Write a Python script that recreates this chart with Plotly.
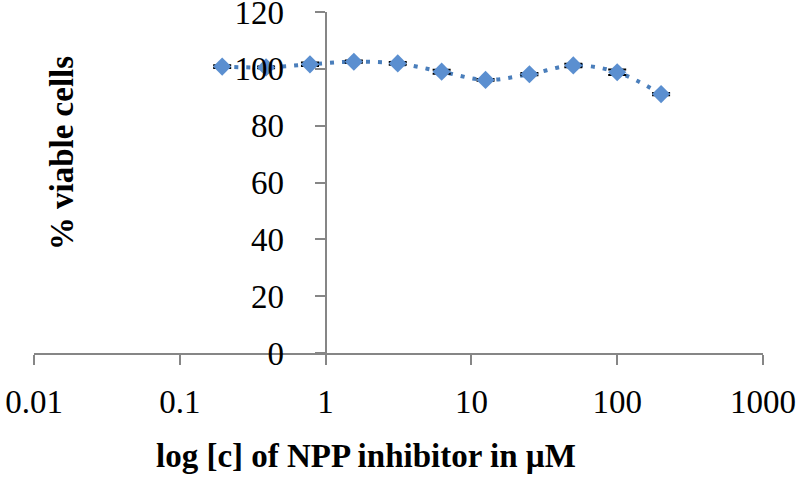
import plotly.graph_objects as go

# concentrations (µM), two-fold dilution series
conc = [0.1953125, 0.390625, 0.78125, 1.5625, 3.125, 6.25, 12.5, 25, 50, 100, 200]
viable = [100.8, 100.5, 101.6, 102.5, 101.9, 99.0, 96.1, 98.1, 101.2, 98.8, 91.1]
err = [0.5, 0.3, 0.6, 0.4, 0.5, 0.7, 0.3, 0.4, 0.6, 1.0, 0.4]

x_ticks = [0.01, 0.1, 1, 10, 100, 1000]
x_ticktext = ["0.01", "0.1", "1", "10", "100", "1000"]
y_ticks = [0, 20, 40, 60, 80, 100, 120]

serif = "Liberation Serif, Times New Roman, serif"
axis_grey = "#868686"

fig = go.Figure()

# dotted trendline
fig.add_trace(go.Scatter(
    x=conc, y=viable, mode="lines",
    line=dict(color="#4A7EBB", width=4, dash="4px,8px", shape="spline", smoothing=1.0),
    hoverinfo="skip", showlegend=False
))

# data points with error bars
fig.add_trace(go.Scatter(
    x=conc, y=viable, mode="markers",
    marker=dict(symbol="diamond", size=14, color="#5B8FD0"),
    error_y=dict(type="data", array=err, color="black", thickness=2, width=9),
    showlegend=False
))

fig.update_layout(
    width=800, height=479,
    margin=dict(l=34, r=37, t=12, b=126),
    paper_bgcolor="white", plot_bgcolor="white",
    font=dict(family=serif, size=33, color="black"),
    xaxis=dict(
        type="log", range=[-2, 3],
        tickvals=x_ticks, ticktext=x_ticktext,
        showgrid=False, zeroline=False, automargin=False,
        showline=True, linecolor=axis_grey, linewidth=2,
        ticks="outside", ticklen=10, tickwidth=2, tickcolor=axis_grey,
        ticklabelstandoff=8, ticklabeloverflow="allow",
        tickfont=dict(family=serif, size=33, color="black"),
    ),
    yaxis=dict(
        range=[0, 120], tickvals=y_ticks,
        anchor="free", position=(0 - (-2)) / 5,
        showgrid=False, zeroline=False, automargin=False,
        showline=True, linecolor=axis_grey, linewidth=2,
        ticks="outside", ticklen=10, tickwidth=2, tickcolor=axis_grey,
        ticklabelstandoff=24, ticklabeloverflow="allow",
        tickfont=dict(family=serif, size=33, color="black"),
    ),
    annotations=[
        dict(text="<b>% viable cells</b>", xref="paper", yref="paper",
             x=0.038, y=0.585, textangle=-90, showarrow=False,
             xanchor="center", yanchor="middle",
             font=dict(family=serif, size=33, color="black")),
        dict(text="<b>log [c] of NPP inhibitor in µM</b>", xref="paper", yref="paper",
             x=0.455, y=-0.301, showarrow=False,
             xanchor="center", yanchor="middle",
             font=dict(family=serif, size=33, color="black")),
    ],
)

# drop the default 8px body margin so the figure sits at the page corner
fig.write_html("out.html", config={"displayModeBar": False},
               post_script="document.body.style.margin = '0';")
